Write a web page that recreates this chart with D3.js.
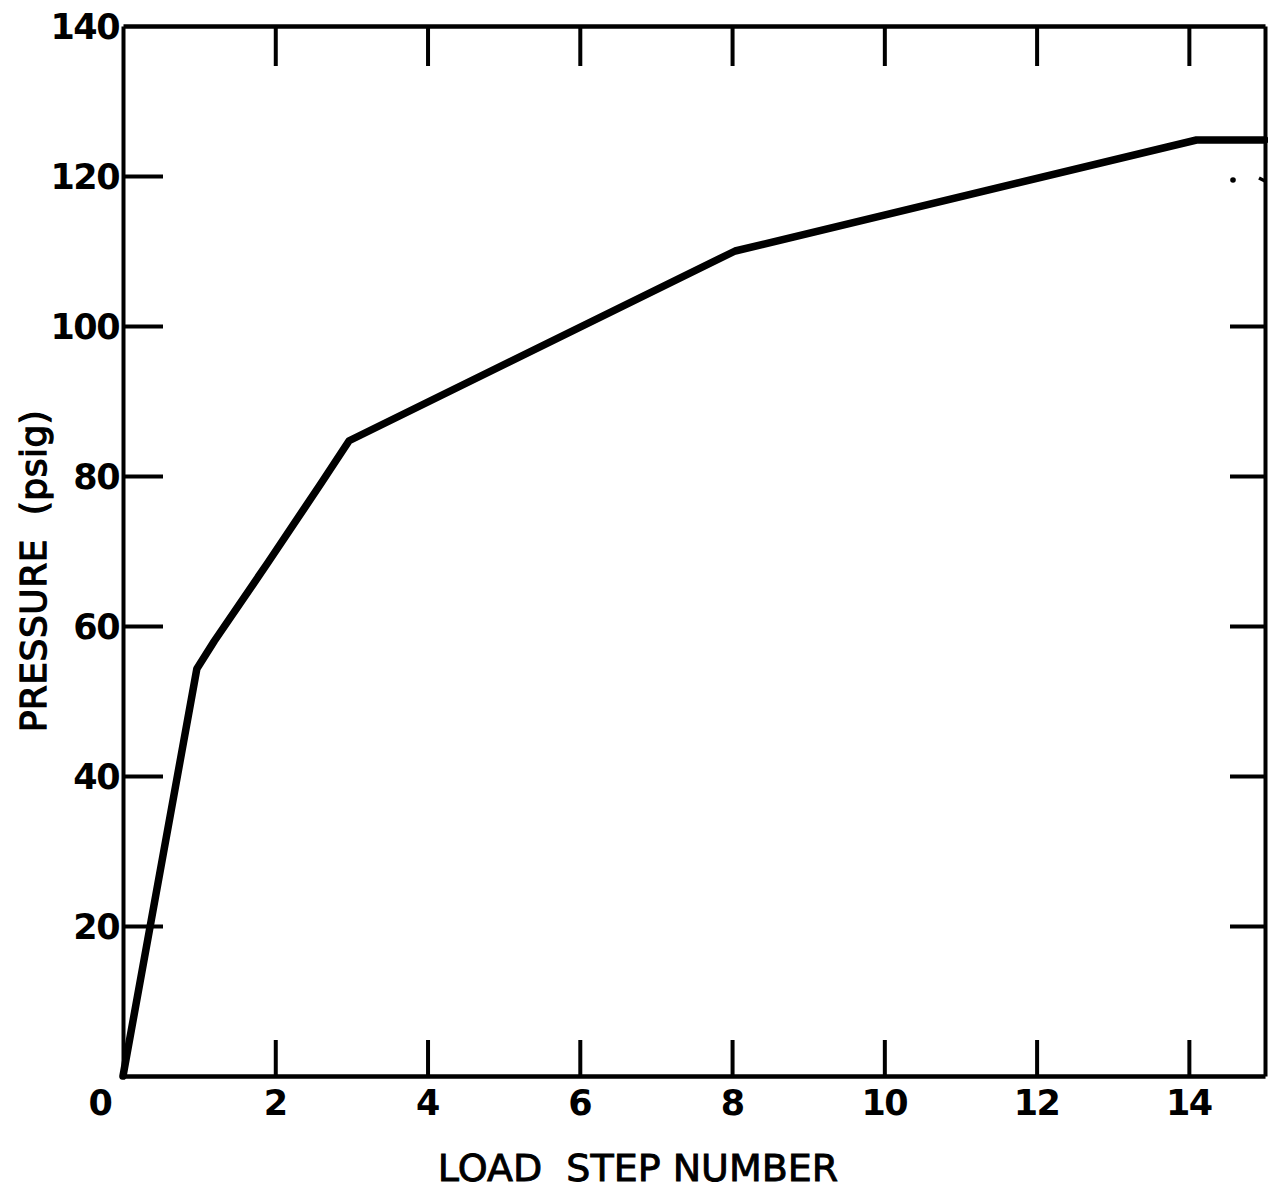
<!DOCTYPE html>
<html>
<head>
<meta charset="utf-8">
<script src="https://cdn.jsdelivr.net/npm/d3@7"></script>
<style>
  html, body { margin: 0; padding: 0; background: #fff; }
  svg { display: block; }
  .lbl { font-family: "DejaVu Sans", sans-serif; fill: #000; }
</style>
</head>
<body>
<div id="chart"></div>
<script>
// ── data ───────────────────────────────────────
const stepNo   = [0, 0.97, 1.2, 1.9, 2.6, 2.97, 8.04, 14.1, 15];
const pressure = [0, 54.3, 58, 68.4, 79, 84.7, 110, 124.8, 124.8];

const xTicks    = [0, 2, 4, 6, 8, 10, 12, 14];
const xTopTicks = [2, 4, 6, 8, 10, 12, 14];
const yTicks    = [20, 40, 60, 80, 100, 120, 140];
const yTicksIn  = [20, 40, 60, 80, 100, 120];
const yRightTicks = [20, 40, 60, 80, 100];   // the 120 one is nearly gone on the scan

const xTitle = "LOAD  STEP NUMBER";
const yTitle = "PRESSURE  (psig)";

// ── layout ─────────────────────────────────────
const W = 1268, H = 1192;
const pLeft = 123, pRight = 1265, pTop = 26, pBottom = 1076;

const x = d3.scaleLinear().domain([0, 15]).range([pLeft, pRight]);
const y = d3.scaleLinear().domain([0, 140]).range([pBottom, pTop]);

const svg = d3.select("#chart").append("svg")
  .attr("width", W).attr("height", H);

// ── frame + inward ticks ───────────────────────
function styleAxis(g, w) {
  g.selectAll(".domain").attr("stroke", "#000").attr("stroke-width", w);
  g.selectAll(".tick line").attr("stroke", "#000").attr("stroke-width", 4);
  g.selectAll(".tick text").remove();
}

svg.append("g")
  .attr("transform", `translate(0,${pBottom})`)
  .call(d3.axisBottom(x).tickValues(xTicks.filter(d => d > 0)).tickSizeInner(-36).tickSizeOuter(0))
  .call(g => styleAxis(g, 4.5));

svg.append("g")
  .attr("transform", `translate(0,${pTop})`)
  .call(d3.axisTop(x).tickValues(xTopTicks).tickSizeInner(-40).tickSizeOuter(0))
  .call(g => styleAxis(g, 4.5));

svg.append("g")
  .attr("transform", `translate(${pLeft},0)`)
  .call(d3.axisLeft(y).tickValues(yTicksIn).tickSizeInner(-40).tickSizeOuter(0))
  .call(g => styleAxis(g, 4));

svg.append("g")
  .attr("transform", `translate(${pRight},0)`)
  .call(d3.axisRight(y).tickValues(yRightTicks).tickSizeInner(-35).tickSizeOuter(0))
  .call(g => styleAxis(g, 4));

// faint remains of the right 120 tick
svg.append("line")
  .attr("x1", pRight - 6).attr("x2", pRight)
  .attr("y1", y(120) + 2).attr("y2", y(120) + 5)
  .attr("stroke", "#000").attr("stroke-width", 3.5);
svg.append("circle")
  .attr("cx", pRight - 32).attr("cy", y(120) + 4).attr("r", 2.8).attr("fill", "#000");

// ── tick labels ────────────────────────────────
svg.append("g").selectAll("text")
  .data(xTicks)
  .join("text")
  .attr("class", "lbl")
  .attr("x", d => d === 0 ? x(d) - 23 : x(d))
  .attr("y", pBottom + 39)
  .attr("text-anchor", "middle")
  .attr("font-size", "35px")
  .attr("font-weight", "bold")
  .attr("letter-spacing", "-1.5px")
  .text(d => d);

svg.append("g").selectAll("text")
  .data(yTicks)
  .join("text")
  .attr("class", "lbl")
  .attr("x", pLeft - 4)
  .attr("y", d => y(d) + 13)
  .attr("text-anchor", "end")
  .attr("font-size", "35px")
  .attr("font-weight", "bold")
  .attr("letter-spacing", "-1.5px")
  .text(d => d);

// ── axis titles ────────────────────────────────
svg.append("text")
  .attr("class", "lbl")
  .attr("x", 638).attr("y", 1181)
  .attr("text-anchor", "middle")
  .attr("font-size", "38px")
  .attr("stroke", "#000").attr("stroke-width", 0.9)
  .style("white-space", "pre")
  .text(xTitle);

svg.append("text")
  .attr("class", "lbl")
  .attr("transform", "translate(46,571) rotate(-90)")
  .attr("text-anchor", "middle")
  .attr("font-size", "36px")
  .attr("stroke", "#000").attr("stroke-width", 1.3)
  .attr("letter-spacing", "0.5px")
  .style("white-space", "pre")
  .text(yTitle);

// ── curve ──────────────────────────────────────
const pts = stepNo.map((s, i) => [s, pressure[i]]);
const line = d3.line().x(d => x(d[0])).y(d => y(d[1]));

svg.append("path")
  .datum(pts)
  .attr("d", line)
  .attr("fill", "none")
  .attr("stroke", "#000")
  .attr("stroke-width", 7.5)
  .attr("stroke-linejoin", "round")
  .attr("stroke-linecap", "round");
</script>
</body>
</html>
